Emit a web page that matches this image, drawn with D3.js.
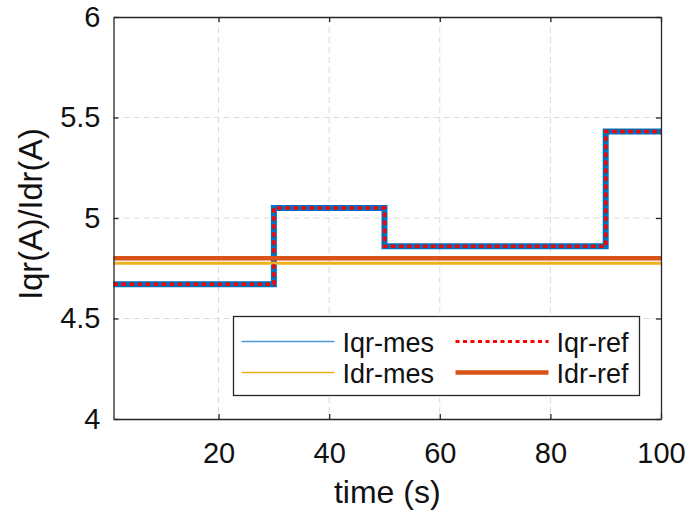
<!DOCTYPE html>
<html>
<head>
<meta charset="utf-8">
<script src="https://cdn.jsdelivr.net/npm/d3@7"></script>
<style>
  body { margin: 0; background: #fff; }
  text { font-family: "Liberation Sans", Arial, sans-serif; fill: #111; }
</style>
</head>
<body>
<svg id="chart" width="689" height="517"></svg>
<script>
// data
const stepTimes = [1, 30, 50, 90, 100];
const iqrMes = [4.67, 5.05, 4.86, 5.43, 5.43];
const iqrRef = [4.67, 5.05, 4.86, 5.43, 5.43];
const idrTimes = [1, 100];
const idrMes = [4.775, 4.775];
const idrRef = [4.8, 4.8];
const xTicks = [20, 40, 60, 80, 100];
const yTicks = [4, 4.5, 5, 5.5, 6];
const legendNames = ["Iqr-mes", "Idr-mes", "Iqr-ref", "Idr-ref"];

const margin = { top: 17, right: 28, bottom: 98, left: 113.5 };
const width = 689 - margin.left - margin.right;
const height = 517 - margin.top - margin.bottom;

const svg = d3.select("#chart");
const g = svg.append("g").attr("transform", `translate(${margin.left},${margin.top})`);

const x = d3.scaleLinear().domain([1, 100]).range([0, width]);
const y = d3.scaleLinear().domain([4, 6]).range([height, 0]);

// grid
g.append("g").selectAll("line").data(xTicks.filter(d => d < 100)).enter().append("line")
    .attr("x1", d => x(d)).attr("x2", d => x(d)).attr("y1", 0).attr("y2", height)
    .attr("stroke", "#dadada").attr("stroke-dasharray", "6,4");
g.append("g").selectAll("line").data(yTicks.filter(d => d > 4 && d < 6)).enter().append("line")
    .attr("y1", d => y(d)).attr("y2", d => y(d)).attr("x1", 0).attr("x2", width)
    .attr("stroke", "#dadada").attr("stroke-dasharray", "6,4");

// lines
const stepLine = d3.line().x(d => x(d[0])).y(d => y(d[1])).curve(d3.curveStepAfter);
const straight = d3.line().x(d => x(d[0])).y(d => y(d[1]));
const plot = g.append("g");

plot.append("path").datum(d3.zip(stepTimes, iqrMes)).attr("d", stepLine)
    .attr("fill", "none").attr("stroke", "#0072BD").attr("stroke-width", 6);
plot.append("path").datum(d3.zip(idrTimes, idrMes)).attr("d", straight)
    .attr("fill", "none").attr("stroke", "#EDB120").attr("stroke-width", 3);
plot.append("path").datum(d3.zip(stepTimes, iqrRef)).attr("d", stepLine)
    .attr("fill", "none").attr("stroke", "#FF0000").attr("stroke-width", 3.5)
    .attr("stroke-dasharray", "4.5,3.5");
plot.append("path").datum(d3.zip(idrTimes, idrRef)).attr("d", straight)
    .attr("fill", "none").attr("stroke", "#D95319").attr("stroke-width", 4.5);

// axes (MATLAB style box, ticks inward)
const axisColor = "#262626";
g.append("g").attr("transform", `translate(0,${height})`)
    .call(d3.axisBottom(x).tickValues(xTicks).tickSizeInner(-5).tickSizeOuter(0).tickPadding(23));
g.append("g")
    .call(d3.axisLeft(y).tickValues(yTicks).tickFormat(d3.format("")).tickSizeInner(-5).tickSizeOuter(0).tickPadding(13));
g.append("g").call(d3.axisTop(x).tickValues(xTicks).tickSizeInner(-5).tickSizeOuter(0).tickFormat(""));
g.append("g").attr("transform", `translate(${width},0)`)
    .call(d3.axisRight(y).tickValues(yTicks).tickSizeInner(-5).tickSizeOuter(0).tickFormat(""));
g.selectAll(".domain, .tick line").attr("stroke", axisColor).attr("stroke-width", 1.3);
g.selectAll(".tick text").attr("font-size", 29).attr("fill", "#111")
    .style("font-family", "'Liberation Sans', Arial, sans-serif");

// axis labels
svg.append("text").attr("x", margin.left + width / 2).attr("y", 503)
    .attr("text-anchor", "middle").attr("font-size", 32).text("time (s)");
svg.append("text").attr("transform", "translate(42,214) rotate(-90)")
    .attr("text-anchor", "middle").attr("font-size", 32.5).text("Iqr(A)/Idr(A)");

// legend
const lg = svg.append("g").attr("transform", "translate(233.5,316.5)");
lg.append("rect").attr("width", 406).attr("height", 79)
    .attr("fill", "#fff").attr("stroke", axisColor).attr("stroke-width", 1.3);
const legendStyle = [
    { color: "#4C9BD6", w: 1.5, dash: null },
    { color: "#EDB120", w: 1.5, dash: null },
    { color: "#FF0000", w: 3, dash: "4,3.5" },
    { color: "#D95319", w: 4.5, dash: null }
];
legendNames.forEach((name, i) => {
    const col = Math.floor(i / 2), row = i % 2;
    const lx = col === 0 ? 8 : 222;
    const ly = row === 0 ? 25 : 56;
    const s = legendStyle[i];
    lg.append("line").attr("x1", lx).attr("x2", lx + 93).attr("y1", ly).attr("y2", ly)
        .attr("stroke", s.color).attr("stroke-width", s.w).attr("stroke-dasharray", s.dash);
    lg.append("text").attr("x", lx + 101).attr("y", ly + 10).attr("font-size", 27).text(name);
});
</script>
</body>
</html>
